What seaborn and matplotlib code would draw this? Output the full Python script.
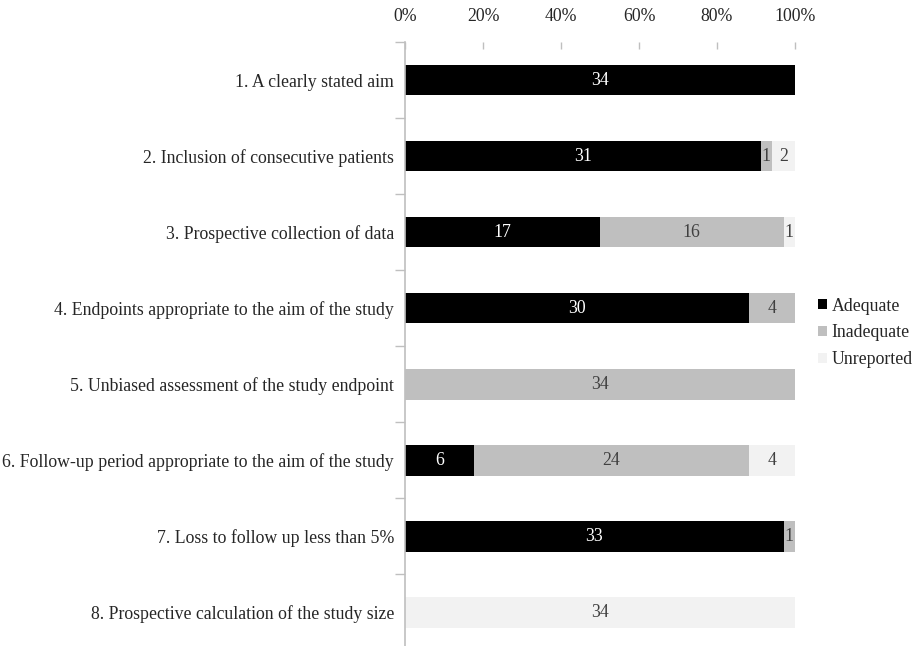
import matplotlib
matplotlib.use("Agg")
import matplotlib.pyplot as plt
from matplotlib.patches import Patch
from matplotlib.ticker import FixedLocator, PercentFormatter
import numpy as np
import pandas as pd
import seaborn as sns

# Quality assessment items and study counts per rating
items = [
    "1. A clearly stated aim",
    "2. Inclusion of consecutive patients",
    "3. Prospective collection of data",
    "4. Endpoints appropriate to the aim of the study",
    "5. Unbiased assessment of the study endpoint",
    "6. Follow-up period appropriate to the aim of the study",
    "7. Loss to follow up less than 5%",
    "8. Prospective calculation of the study size",
]
adequate = [34, 31, 17, 30, 0, 6, 33, 0]
inadequate = [0, 1, 16, 4, 34, 24, 1, 0]
unreported = [0, 2, 1, 0, 0, 4, 0, 34]
series_names = ["Adequate", "Inadequate", "Unreported"]
series_colors = ["#000000", "#BFBFBF", "#F2F2F2"]
label_colors = ["#FFFFFF", "#404040", "#404040"]
x_ticks = [0, 20, 40, 60, 80, 100]

counts = np.array([adequate, inadequate, unreported], dtype=float)
totals = counts.sum(axis=0)
shares = counts / totals * 100
cum = np.cumsum(shares, axis=0)

sns.set_theme(style="white")
plt.rcParams["font.family"] = ["Liberation Serif", "DejaVu Serif"]
FS = 12.8

fig = plt.figure(figsize=(9.14, 6.46), dpi=100)
ax = fig.add_axes([405 / 914, 0.0, 390 / 914, 1 - 42 / 646])

# Stacked bars: draw cumulative shares from the outermost layer inward
for k in range(len(series_names) - 1, -1, -1):
    df = pd.DataFrame({"item": items, "share": cum[k]})
    sns.barplot(data=df, x="share", y="item", orient="h", color=series_colors[k],
                width=0.4, saturation=1, edgecolor="none", linewidth=0, ax=ax)

# Segment value labels
for k in range(len(series_names)):
    lefts = cum[k] - shares[k]
    for i, (c, s, l) in enumerate(zip(counts[k], shares[k], lefts)):
        if c > 0:
            ax.text(l + s / 2, i, f"{int(c)}", ha="center", va="center",
                    fontsize=FS, color=label_colors[k])

ax.set_xlim(0, 100)
ax.set_ylim(7.44, -0.5)
ax.set_xlabel("")
ax.set_ylabel("")

# Percentage axis on top with inward ticks
ax.xaxis.tick_top()
ax.set_xticks(x_ticks)
ax.xaxis.set_major_formatter(PercentFormatter(decimals=0))
ax.tick_params(axis="x", which="major", direction="in", length=5, width=1,
               color="#BFBFBF", labelsize=FS, labelcolor="#262626", pad=12)

# Category axis: labels only, tick marks between categories
ax.tick_params(axis="y", which="major", length=0, labelsize=FS,
               labelcolor="#262626", pad=8)
ax.yaxis.set_minor_locator(FixedLocator(np.arange(-0.5, len(items), 1.0)))
ax.tick_params(axis="y", which="minor", direction="out", length=7, width=1,
               color="#BFBFBF", left=True)

for side in ["top", "right", "bottom"]:
    ax.spines[side].set_visible(False)
ax.spines["left"].set_color("#BFBFBF")
ax.spines["left"].set_linewidth(1.2)

handles = [Patch(facecolor=c, edgecolor="none", label=n)
           for n, c in zip(series_names, series_colors)]
fig.legend(handles=handles, loc="center left", bbox_to_anchor=(818 / 914, 1 - 333 / 646),
           frameon=False, fontsize=FS, handlelength=0.5, handleheight=0.5,
           handletextpad=0.25, labelspacing=0.55, borderaxespad=0, borderpad=0,
           labelcolor="#262626")

fig.savefig("out.png", dpi=100)
